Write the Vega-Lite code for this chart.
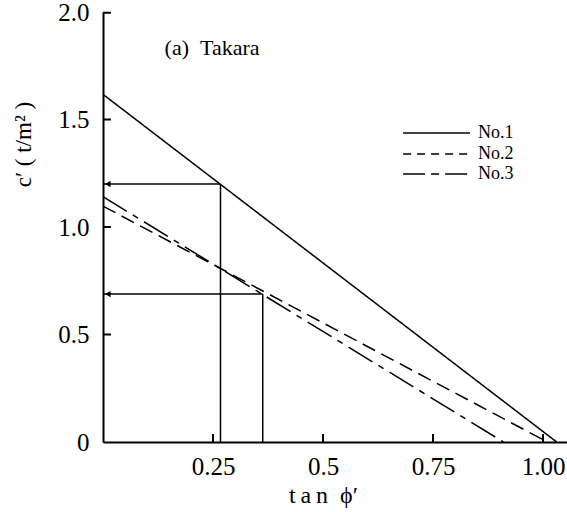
{
  "$schema": "https://vega.github.io/schema/vega-lite/v6.json",
  "autosize": "none",
  "width": 464,
  "height": 430,
  "padding": {"left": 103, "top": 12, "right": 0, "bottom": 70},
  "background": "white",
  "config": {
    "view": {"stroke": null},
    "font": "Liberation Serif",
    "axis": {"grid": false, "ticks": false, "domainColor": "black", "domainWidth": 2, "labelColor": "black", "titleColor": "black", "labelFont": "Liberation Serif", "titleFont": "Liberation Serif", "labelFontSize": 25, "titleFontWeight": "normal"}
  },
  "datasets": {
    "lines": [
      {"series": "No.1", "x": 0, "y": 1.617},
      {"series": "No.1", "x": 1.031, "y": 0},
      {"series": "No.2", "x": 0, "y": 1.097},
      {"series": "No.2", "x": 1.01, "y": 0},
      {"series": "No.3", "x": 0, "y": 1.141},
      {"series": "No.3", "x": 0.91, "y": 0}
    ],
    "legendLines": [
      {"series": "No.1", "x": 0.682, "y": 1.437},
      {"series": "No.1", "x": 0.834, "y": 1.437},
      {"series": "No.2", "x": 0.682, "y": 1.339},
      {"series": "No.2", "x": 0.834, "y": 1.339},
      {"series": "No.3", "x": 0.682, "y": 1.246},
      {"series": "No.3", "x": 0.834, "y": 1.246}
    ],
    "legendText": [
      {"x": 0.852, "y": 1.437, "text": "No.1"},
      {"x": 0.852, "y": 1.339, "text": "No.2"},
      {"x": 0.852, "y": 1.246, "text": "No.3"}
    ],
    "guides": [
      {"x": 0.267, "x2": 0.267, "y": 0, "y2": 1.2},
      {"x": 0, "x2": 0.267, "y": 1.2, "y2": 1.2},
      {"x": 0.363, "x2": 0.363, "y": 0, "y2": 0.688},
      {"x": 0, "x2": 0.363, "y": 0.688, "y2": 0.688}
    ],
    "xTicks": [
      {"x": 0.25, "y": 0.0186},
      {"x": 0.5, "y": 0.0186},
      {"x": 0.75, "y": 0.0186},
      {"x": 1.0, "y": 0.0186}
    ],
    "yTicks": [
      {"y": 0.5, "x": 0.009},
      {"y": 1.0, "x": 0.009},
      {"y": 1.5, "x": 0.009},
      {"y": 1.997, "x": 0.009}
    ],
    "arrows": [
      {"x": 0.011, "y": 1.2},
      {"x": 0.011, "y": 0.688}
    ],
    "label": [
      {"x": 0.14, "y": 1.833, "text": "(a)\u00a0\u00a0Takara"}
    ]
  },
  "layer": [
    {
      "data": {"name": "guides"},
      "mark": {"type": "rule", "color": "black", "strokeWidth": 1.5},
      "encoding": {
        "x": {"field": "x", "type": "quantitative", "scale": {"domain": [0, 1.0545], "nice": false, "zero": false},
          "axis": {"values": [0.25, 0.5, 0.75, 1.0], "labelExpr": "datum.value == 1 ? '1.00' : format(datum.value, '')", "labelPadding": 12, "title": "t\u2009a\u2009n\u00a0\u00a0\u03d5\u2032", "titleFontSize": 24, "titlePadding": 4, "titleX": 220, "titleAnchor": "middle"}},
        "x2": {"field": "x2"},
        "y": {"field": "y", "type": "quantitative", "scale": {"domain": [0, 2], "nice": false},
          "axis": {"values": [0, 0.5, 1, 1.5, 2], "labelExpr": "datum.value == 0 ? '0' : format(datum.value, '.1f')", "labelPadding": 14, "title": "c\u2032\u00a0(\u00a0t/m\u00b2\u00a0)", "titleFontSize": 23, "titleX": -68, "titleY": 132, "titleAnchor": "middle"}},
        "y2": {"field": "y2"}
      }
    },
    {
      "data": {"name": "xTicks"},
      "mark": {"type": "tick", "orient": "vertical", "color": "black", "size": 8, "thickness": 2, "opacity": 1},
      "encoding": {
        "x": {"field": "x", "type": "quantitative"},
        "y": {"field": "y", "type": "quantitative"}
      }
    },
    {
      "data": {"name": "yTicks"},
      "mark": {"type": "tick", "orient": "horizontal", "color": "black", "size": 8, "thickness": 2, "opacity": 1},
      "encoding": {
        "y": {"field": "y", "type": "quantitative"},
        "x": {"field": "x", "type": "quantitative"}
      }
    },
    {
      "data": {"name": "arrows"},
      "mark": {"type": "point", "shape": "triangle-left", "filled": true, "color": "black", "size": 40, "opacity": 1},
      "encoding": {
        "x": {"field": "x", "type": "quantitative"},
        "y": {"field": "y", "type": "quantitative"}
      }
    },
    {
      "data": {"name": "lines"},
      "mark": {"type": "line", "color": "black", "strokeWidth": 1.5},
      "encoding": {
        "x": {"field": "x", "type": "quantitative"},
        "y": {"field": "y", "type": "quantitative"},
        "strokeDash": {"field": "series", "type": "nominal",
          "scale": {"domain": ["No.1", "No.2", "No.3"], "range": [[1, 0], [14, 7], [28, 7, 6, 7]]},
          "legend": null}
      }
    },
    {
      "data": {"name": "legendLines"},
      "mark": {"type": "line", "color": "black", "strokeWidth": 1.5},
      "encoding": {
        "x": {"field": "x", "type": "quantitative"},
        "y": {"field": "y", "type": "quantitative"},
        "strokeDash": {"field": "series", "type": "nominal",
          "scale": {"domain": ["No.1", "No.2", "No.3"], "range": [[1, 0], [8, 6], [22, 6, 8, 6]]},
          "legend": null}
      }
    },
    {
      "data": {"name": "legendText"},
      "mark": {"type": "text", "fontSize": 18, "align": "left", "baseline": "middle", "color": "black", "font": "Liberation Serif"},
      "encoding": {
        "x": {"field": "x", "type": "quantitative"},
        "y": {"field": "y", "type": "quantitative"},
        "text": {"field": "text"}
      }
    },
    {
      "data": {"name": "label"},
      "mark": {"type": "text", "fontSize": 22, "align": "left", "baseline": "middle", "color": "black", "font": "Liberation Serif"},
      "encoding": {
        "x": {"field": "x", "type": "quantitative"},
        "y": {"field": "y", "type": "quantitative"},
        "text": {"field": "text"}
      }
    }
  ],
  "resolve": {"scale": {"strokeDash": "independent"}}
}
